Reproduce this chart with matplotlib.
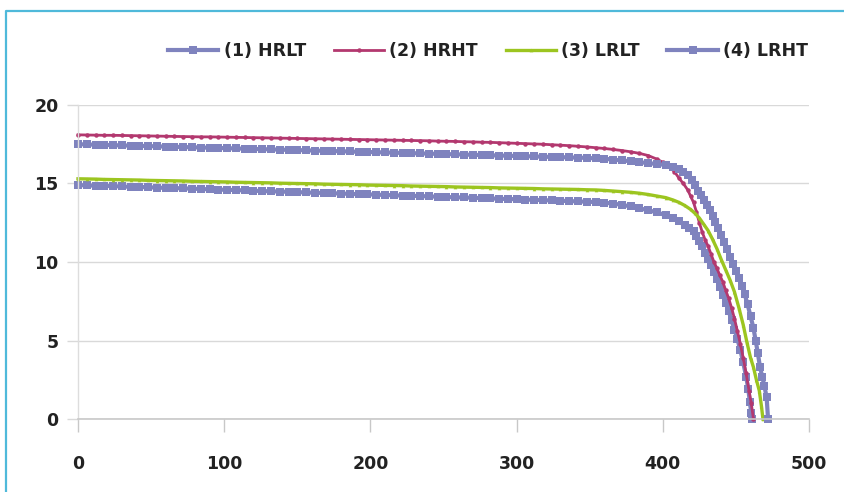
import matplotlib
matplotlib.use("Agg")
import matplotlib.pyplot as plt
from matplotlib.lines import Line2D

# ---------------- data ----------------
x_flat = [0, 6, 12, 18, 24, 30, 36, 42, 48, 54, 60, 66, 72, 78, 84, 90, 96, 102, 108, 114,
          120, 126, 132, 138, 144, 150, 156, 162, 168, 174, 180, 186, 192, 198, 204, 210,
          216, 222, 228, 234, 240, 246, 252, 258, 264, 270, 276, 282, 288, 294, 300, 306,
          312, 318, 324, 330, 336, 342, 348, 354]

# (1) HRLT
hrlt_flat = [14.90, 14.88, 14.86, 14.85, 14.83, 14.81, 14.79, 14.78, 14.76, 14.74, 14.72,
             14.71, 14.69, 14.67, 14.65, 14.63, 14.61, 14.60, 14.58, 14.56, 14.54, 14.52,
             14.50, 14.49, 14.47, 14.45, 14.43, 14.41, 14.40, 14.38, 14.36, 14.34, 14.32,
             14.31, 14.29, 14.27, 14.25, 14.23, 14.22, 14.20, 14.18, 14.16, 14.14, 14.12,
             14.11, 14.09, 14.07, 14.05, 14.03, 14.01, 14.00, 13.98, 13.96, 13.94, 13.92,
             13.90, 13.88, 13.86, 13.84, 13.82]
hrlt_knee_x = [360, 366, 372, 378, 384, 390, 396, 402, 407, 411, 415, 418, 421, 423, 425,
               427, 429, 431, 433, 435, 437, 439, 441, 443, 445, 447, 449, 451, 453, 455,
               457, 458.5, 459.5, 460.5, 461]
hrlt_knee_y = [13.78, 13.72, 13.64, 13.54, 13.42, 13.30, 13.16, 12.98, 12.80, 12.58, 12.35,
               12.15, 11.95, 11.65, 11.35, 11.0, 10.6, 10.2, 9.8, 9.35, 8.9, 8.4, 7.9, 7.4,
               6.9, 6.3, 5.7, 5.1, 4.4, 3.6, 2.7, 1.9, 1.1, 0.4, 0.0]

# (2) HRHT
hrht_flat = [18.10, 18.09, 18.08, 18.07, 18.07, 18.06, 18.05, 18.04, 18.03, 18.02, 18.01,
             18.00, 17.99, 17.98, 17.97, 17.97, 17.96, 17.95, 17.94, 17.93, 17.92, 17.91,
             17.90, 17.89, 17.88, 17.87, 17.86, 17.85, 17.84, 17.83, 17.82, 17.81, 17.80,
             17.79, 17.78, 17.77, 17.76, 17.75, 17.74, 17.73, 17.72, 17.70, 17.69, 17.68,
             17.66, 17.65, 17.63, 17.62, 17.60, 17.58, 17.56, 17.54, 17.52, 17.50, 17.47,
             17.44, 17.41, 17.37, 17.33, 17.28]
hrht_knee_x = [360, 366, 372, 378, 384, 390, 396, 400, 404, 408, 411, 414, 417, 419, 421,
               423, 425, 427, 429, 431, 433, 435, 437, 439, 441, 443, 445, 447, 449, 451,
               453, 455, 457, 459, 460.5, 462]
hrht_knee_y = [17.23, 17.17, 17.10, 17.02, 16.92, 16.78, 16.55, 16.35, 16.1, 15.75, 15.35,
               15.0, 14.6, 14.2, 13.8, 13.2, 12.5, 11.9, 11.4, 11.0, 10.5, 10.0, 9.6, 9.15,
               8.75, 8.2, 7.7, 7.1, 6.4, 5.6, 4.8, 3.9, 2.9, 1.8, 1.0, 0.0]

# (3) LRLT
lrlt_flat = [15.30, 15.29, 15.28, 15.26, 15.25, 15.24, 15.23, 15.22, 15.20, 15.19, 15.18,
             15.17, 15.16, 15.14, 15.13, 15.12, 15.11, 15.10, 15.08, 15.07, 15.06, 15.05,
             15.04, 15.02, 15.01, 15.00, 14.99, 14.98, 14.96, 14.95, 14.94, 14.93, 14.92,
             14.90, 14.89, 14.88, 14.87, 14.86, 14.84, 14.83, 14.82, 14.81, 14.80, 14.78,
             14.77, 14.76, 14.75, 14.74, 14.72, 14.71, 14.70, 14.69, 14.68, 14.66, 14.65,
             14.64, 14.63, 14.62, 14.60, 14.59]
lrlt_knee_x = [360, 366, 372, 378, 384, 390, 396, 402, 407, 411, 415, 419, 422, 425, 428,
               431, 434, 437, 440, 443, 446, 449, 452, 455, 457.5, 460, 462, 464, 466, 467.5,
               468.5]
lrlt_knee_y = [14.56, 14.52, 14.48, 14.44, 14.38, 14.30, 14.20, 14.10, 13.95, 13.8, 13.6,
               13.35, 13.1, 12.8, 12.4, 12.0, 11.45, 10.85, 10.15, 9.5, 8.85, 8.1, 7.1, 6.0,
               4.9, 3.9, 3.3, 2.5, 1.8, 0.8, 0.0]

# (4) LRHT
lrht_flat = [17.50, 17.49, 17.47, 17.46, 17.44, 17.43, 17.41, 17.40, 17.38, 17.37, 17.35,
             17.34, 17.32, 17.31, 17.29, 17.28, 17.26, 17.25, 17.23, 17.22, 17.20, 17.19,
             17.17, 17.16, 17.14, 17.13, 17.11, 17.10, 17.08, 17.07, 17.05, 17.04, 17.02,
             17.01, 16.99, 16.98, 16.96, 16.95, 16.93, 16.92, 16.90, 16.89, 16.87, 16.86,
             16.84, 16.83, 16.81, 16.80, 16.78, 16.77, 16.75, 16.74, 16.72, 16.71, 16.69,
             16.68, 16.66, 16.65, 16.63, 16.60]
lrht_knee_x = [360, 366, 372, 378, 384, 390, 396, 402, 407, 411, 414, 417, 420, 422, 424,
               426, 428, 430, 432, 434, 436, 438, 440, 442, 444, 446, 448, 450, 452, 454,
               456, 458, 460, 462, 463.5, 465, 466.5, 468, 469.5, 471, 472]
lrht_knee_y = [16.58, 16.52, 16.47, 16.42, 16.36, 16.30, 16.24, 16.18, 16.05, 15.9, 15.75,
               15.55, 15.2, 14.9, 14.55, 14.25, 13.95, 13.65, 13.3, 12.95, 12.55, 12.15,
               11.75, 11.3, 10.8, 10.3, 9.85, 9.4, 8.95, 8.5, 7.95, 7.3, 6.55, 5.8, 5.0, 4.2,
               3.3, 2.7, 2.1, 1.4, 0.0]

labels = ["(1) HRLT", "(2) HRHT", "(3) LRLT", "(4) LRHT"]
x_ticks = [0, 100, 200, 300, 400, 500]
y_ticks = [0, 5, 10, 15, 20]

# ---------------- style ----------------
BLUE = "#7F83BE"
MAGENTA = "#B3386F"
GREEN = "#9CC520"
TXT = "#222222"
FONT = "DejaVu Sans"

fig = plt.figure(figsize=(8.45, 4.92), dpi=100)
W, H = 845, 492
ax = fig.add_axes([78 / W, 1 - 419 / H, 731 / W, 314 / H])

series = [
    (x_flat + hrlt_knee_x, hrlt_flat + hrlt_knee_y, BLUE, "s", 5.8, 3.0, labels[0]),
    (x_flat + hrht_knee_x, hrht_flat + hrht_knee_y, MAGENTA, "o", 3.2, 2.0, labels[1]),
    (x_flat + lrlt_knee_x, lrlt_flat + lrlt_knee_y, GREEN, "^", 2.6, 2.4, labels[2]),
    (x_flat + lrht_knee_x, lrht_flat + lrht_knee_y, BLUE, "s", 5.8, 3.0, labels[3]),
]
for xs, ys, col, mk, ms, lw, lab in series:
    ax.plot(xs, ys, color=col, marker=mk, markersize=ms, linewidth=lw,
            markeredgewidth=0, label=lab, clip_on=False)

ax.set_xlim(0, 500)
ax.set_ylim(0, 20)
ax.set_xticks(x_ticks)
ax.set_yticks(y_ticks)
ax.set_xticklabels([str(v) for v in x_ticks])
ax.set_yticklabels([str(v) for v in y_ticks])

for lbl in ax.get_xticklabels() + ax.get_yticklabels():
    lbl.set_fontfamily(FONT)
    lbl.set_fontweight("bold")
    lbl.set_fontsize(12.5)
    lbl.set_color(TXT)

ax.grid(axis="y", color="#D9D9D9", linewidth=1.0)
ax.set_axisbelow(True)
for s in ["top", "right"]:
    ax.spines[s].set_visible(False)
ax.spines["left"].set_color("#DDDDDD")
ax.spines["left"].set_linewidth(1.0)
ax.spines["bottom"].set_color("#C8C8C8")
ax.spines["bottom"].set_linewidth(1.2)
ax.tick_params(axis="x", length=9, width=1.0, color="#C8C8C8", pad=17, direction="out")
ax.tick_params(axis="y", length=8, width=1.0, color="#D9D9D9", pad=6, direction="out")

leg = fig.legend(loc="center", bbox_to_anchor=(488 / W, 1 - 51 / H), ncol=4,
                 frameon=False, handlelength=2.9, handletextpad=0.3, columnspacing=1.6,
                 numpoints=1, borderpad=0, borderaxespad=0,
                 prop={"family": FONT, "weight": "bold", "size": 12.5})
for t in leg.get_texts():
    t.set_color(TXT)

# cyan frame (top & left edges)
fig.add_artist(Line2D([6 / W, 6 / W, 1.0], [0.0, 1 - 11 / H, 1 - 11 / H],
                      transform=fig.transFigure, color="#4FB9DA", linewidth=1.6))

fig.savefig("out.png", dpi=100)
